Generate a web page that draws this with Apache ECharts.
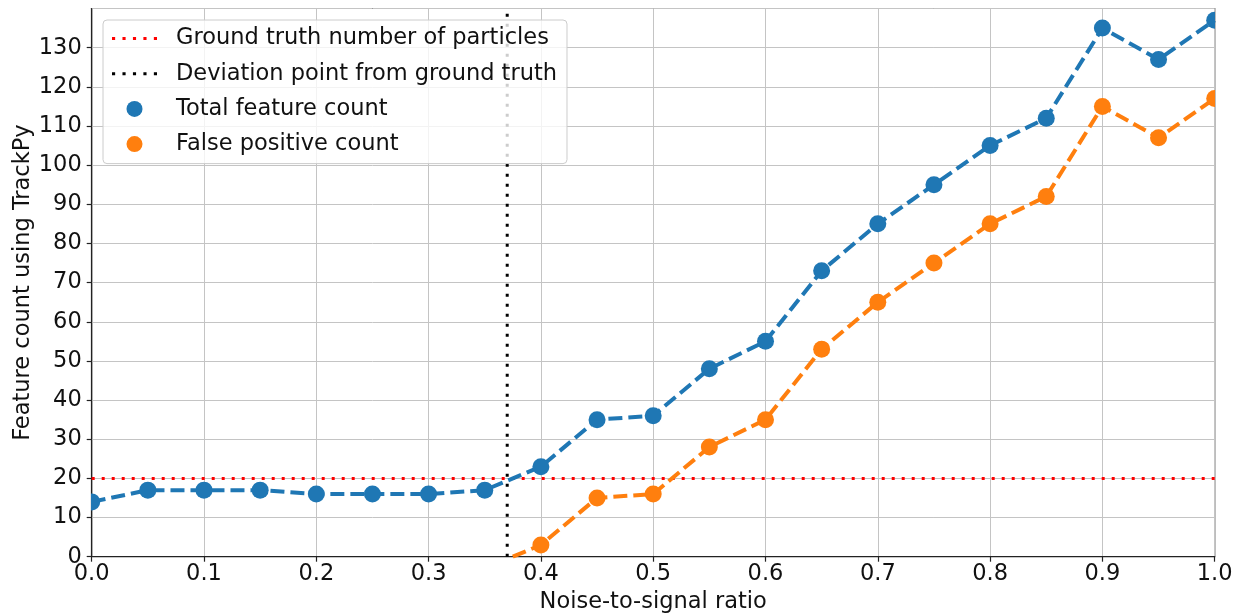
<!DOCTYPE html>
<html>
<head>
<meta charset="utf-8">
<title>Feature count vs noise-to-signal ratio</title>
<script src="https://cdn.jsdelivr.net/npm/echarts@6/dist/echarts.min.js"></script>
<style>
  html, body { margin: 0; padding: 0; background: #ffffff; }
  #chart { width: 1242px; height: 616px; }
</style>
</head>
<body>
<div id="chart"></div>
<script>
// Noise-to-signal ratios at which the feature counts were measured
const noiseRatios = [0.0, 0.05, 0.1, 0.15, 0.2, 0.25, 0.3, 0.35, 0.4, 0.45, 0.5,
                     0.55, 0.6, 0.65, 0.7, 0.75, 0.8, 0.85, 0.9, 0.95, 1.0];
// Total number of features found by TrackPy
const totalFeatureCount = [14, 17, 17, 17, 16, 16, 16, 17, 23, 35, 36,
                           48, 55, 73, 85, 95, 105, 112, 135, 127, 137];
// False positives, only defined from 0.4 upwards
const falsePositiveRatios = [0.4, 0.45, 0.5, 0.55, 0.6, 0.65, 0.7, 0.75, 0.8, 0.85, 0.9, 0.95, 1.0];
const falsePositiveCount = [3, 15, 16, 28, 35, 53, 65, 75, 85, 92, 115, 107, 117];
// False-positive curve starts from zero where the total first exceeds the ground truth
const falsePositiveStart = [0.375, 0];
// Reference values
const groundTruthParticles = 20;
const deviationPoint = 0.37;
const xTicks = [0.0, 0.1, 0.2, 0.3, 0.4, 0.5, 0.6, 0.7, 0.8, 0.9, 1.0];
const yTicks = [0, 10, 20, 30, 40, 50, 60, 70, 80, 90, 100, 110, 120, 130];

const BLUE = '#1f77b4';
const ORANGE = '#ff7f0e';
const FONT = 'DejaVu Sans';
const FS = 22.5;
const MARKER_R = 8.5;
// Dotted legend handle: five small squares
const DOTTED_ICON = 'path://M0,0h3v3h-3z M10,0h3v3h-3z M20,0h3v3h-3z M30,0h3v3h-3z M40,0h3v3h-3z';

const totalPoints = noiseRatios.map((x, i) => [x, totalFeatureCount[i]]);
const fpPoints = falsePositiveRatios.map((x, i) => [x, falsePositiveCount[i]]);
const fpLine = [falsePositiveStart].concat(fpPoints);

// Circle markers, clipped to the plot area like the lines
function markerSeries(name, points, color) {
  return {
    name: name,
    type: 'custom', clip: true, z: 5,
    data: points,
    itemStyle: { color: color },
    renderItem: function (params, api) {
      const p = api.coord([api.value(0), api.value(1)]);
      return {
        type: 'circle',
        shape: { cx: p[0], cy: p[1], r: MARKER_R },
        style: { fill: color }
      };
    }
  };
}

const chart = echarts.init(document.getElementById('chart'), null, { renderer: 'canvas' });

chart.setOption({
  animation: false,
  backgroundColor: '#ffffff',
  textStyle: { fontFamily: FONT, color: '#000' },
  grid: {
    left: 91.7, right: 27.3, top: 8.5, bottom: 59.3,
    outerBoundsMode: 'none',
    containLabel: false,
    show: true, borderColor: '#222', borderWidth: 1.2,
    backgroundColor: 'transparent'
  },
  legend: {
    orient: 'vertical',
    left: 103, top: 20,
    padding: [7, 10, 8, 9],
    itemWidth: 45, itemHeight: 16, itemGap: 12.2,
    backgroundColor: 'rgba(255,255,255,0.8)',
    borderColor: '#cccccc', borderWidth: 1, borderRadius: 4,
    selectedMode: false,
    textStyle: { fontFamily: FONT, fontSize: FS, color: '#111', lineHeight: 22, padding: [0, 0, 0, 14] },
    data: [
      { name: 'Ground truth number of particles', icon: DOTTED_ICON },
      { name: 'Deviation point from ground truth', icon: DOTTED_ICON },
      { name: 'Total feature count', icon: 'circle' },
      { name: 'False positive count', icon: 'circle' }
    ]
  },
  xAxis: {
    type: 'value', min: 0, max: 1, interval: 0.1,
    name: 'Noise-to-signal ratio', nameLocation: 'middle', nameGap: 34,
    nameMoveOverlap: false,
    nameTextStyle: { fontFamily: FONT, fontSize: FS, color: '#111' },
    axisLine: { show: true, lineStyle: { color: '#222', width: 1.2 } },
    axisTick: { show: true, length: 5, lineStyle: { color: '#222', width: 1.2 } },
    axisLabel: {
      fontFamily: FONT, fontSize: FS, color: '#111', margin: 6,
      formatter: v => xTicks.some(t => Math.abs(t - v) < 1e-9) ? v.toFixed(1) : ''
    },
    splitLine: { show: true, lineStyle: { color: '#c4c4c4', width: 1 } }
  },
  yAxis: {
    type: 'value', min: 0, max: 140, interval: 10,
    name: 'Feature count using TrackPy', nameLocation: 'middle', nameGap: 57,
    nameMoveOverlap: false,
    nameTextStyle: { fontFamily: FONT, fontSize: FS, color: '#111' },
    axisLine: { show: true, lineStyle: { color: '#222', width: 1.2 } },
    axisTick: { show: true, length: 5, lineStyle: { color: '#222', width: 1.2 } },
    axisLabel: {
      fontFamily: FONT, fontSize: FS, color: '#111', margin: 10, showMaxLabel: false,
      formatter: v => yTicks.indexOf(Math.round(v)) >= 0 && Math.abs(v - Math.round(v)) < 1e-9 ? String(Math.round(v)) : ''
    },
    splitLine: { show: true, lineStyle: { color: '#c4c4c4', width: 1 } }
  },
  series: [
    {
      name: 'Ground truth number of particles',
      type: 'line', symbol: 'none', silent: true, z: 3,
      data: [[0, groundTruthParticles], [1, groundTruthParticles]],
      lineStyle: { color: '#ff0000', width: 3, type: [3, 7], cap: 'butt' },
      itemStyle: { color: '#ff0000' }
    },
    {
      name: 'Deviation point from ground truth',
      type: 'line', symbol: 'none', silent: true, z: 3,
      data: [[deviationPoint, 0], [deviationPoint, 140]],
      lineStyle: { color: '#000000', width: 3, type: [3, 7], cap: 'butt' },
      itemStyle: { color: '#000000' }
    },
    {
      name: 'total-line',
      type: 'line', symbol: 'none', silent: true, z: 4,
      data: totalPoints,
      lineStyle: { color: BLUE, width: 4, type: [14, 6], cap: 'butt' }
    },
    {
      name: 'fp-line',
      type: 'line', symbol: 'none', silent: true, z: 4,
      data: fpLine,
      lineStyle: { color: ORANGE, width: 4, type: [14, 6], cap: 'butt' }
    },
    markerSeries('Total feature count', totalPoints, BLUE),
    markerSeries('False positive count', fpPoints, ORANGE)
  ]
});
</script>
</body>
</html>
